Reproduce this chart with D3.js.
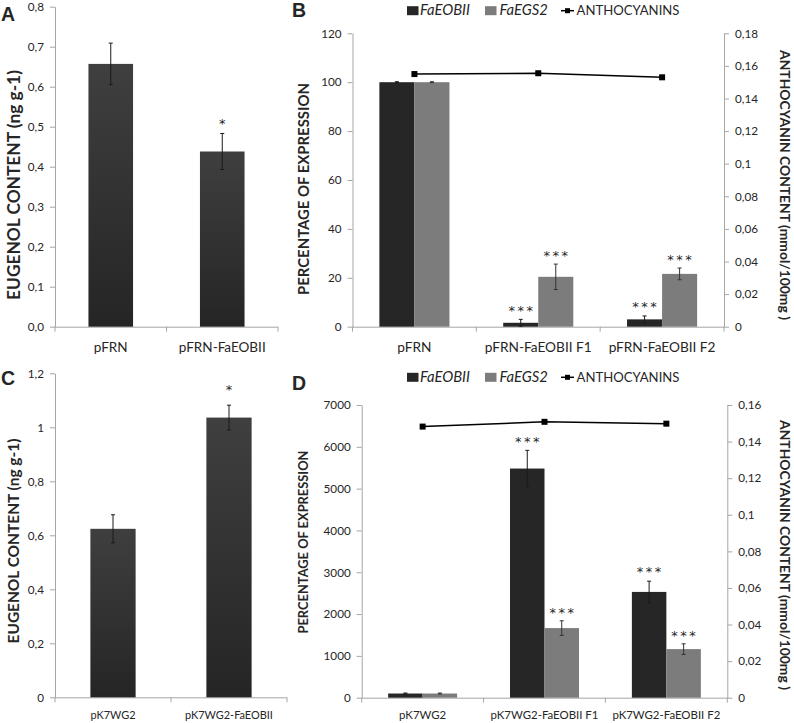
<!DOCTYPE html>
<html><head><meta charset="utf-8">
<script src="https://cdn.jsdelivr.net/npm/d3@7"></script>
<style>
body{margin:0;background:#fff}
text{font-family:Lato,"Open Sans",sans-serif;fill:#262626}
</style>
</head><body>
<svg id="chart" width="794" height="723"></svg>
<script>
// ---------- DATA ----------
// Panel A
const catsA = ["pFRN", "pFRN-FaEOBII"];
const eugenolA = [0.657, 0.438];
const eugenolErrA = [0.052, 0.045];
const sigA = ["", "*"];
const ticksA = [0, 0.1, 0.2, 0.3, 0.4, 0.5, 0.6, 0.7, 0.8];

// Panel C
const catsC = ["pK7WG2", "pK7WG2-FaEOBII"];
const eugenolC = [0.624, 1.036];
const eugenolErrC = [0.052, 0.046];
const sigC = ["", "*"];
const ticksC = [0, 0.2, 0.4, 0.6, 0.8, 1, 1.2];

// Panel B
const catsB = ["pFRN", "pFRN-FaEOBII F1", "pFRN-FaEOBII F2"];
const faeobiiB = [100, 1.6, 3.0];
const faeobiiErrB = [0.2, 1.4, 1.4];
const faegs2B = [100, 20.4, 21.6];
const faegs2ErrB = [0.2, 5.2, 2.4];
const anthoB = [0.155, 0.1555, 0.153];
const sigFaeobiiB = ["", "***", "***"];
const sigFaegs2B = ["", "***", "***"];
const leftTicksB = [0, 20, 40, 60, 80, 100, 120];
const rightTicksB = [0, 0.02, 0.04, 0.06, 0.08, 0.1, 0.12, 0.14, 0.16, 0.18];

// Panel D
const catsD = ["pK7WG2", "pK7WG2-FaEOBII F1", "pK7WG2-FaEOBII F2"];
const faeobiiD = [100, 5480, 2530];
const faeobiiErrD = [12, 435, 257];
const faegs2D = [100, 1665, 1162];
const faegs2ErrD = [12, 175, 127];
const anthoD = [0.1482, 0.1508, 0.1498];
const sigFaeobiiD = ["", "***", "***"];
const sigFaegs2D = ["", "***", "***"];
const leftTicksD = [0, 1000, 2000, 3000, 4000, 5000, 6000, 7000];
const rightTicksD = [0, 0.02, 0.04, 0.06, 0.08, 0.1, 0.12, 0.14, 0.16];

const legendLabels = ["FaEOBII", "FaEGS2", "ANTHOCYANINS"];

// ---------- STYLE ----------
const AXIS = "#a6a6a6", DARK = "#262626", GRAY = "#7c7c7c";
const svg = d3.select("#chart");
const defs = svg.append("defs");
const grad = defs.append("linearGradient").attr("id","barGrad").attr("x1",0).attr("y1",0).attr("x2",0).attr("y2",1);
grad.append("stop").attr("offset","0%").attr("stop-color","#3f3f3f");
grad.append("stop").attr("offset","100%").attr("stop-color","#252525");

const commaFmt1 = v => v.toFixed(1).replace(".", ",");
const commaTrim = v => String(+v.toFixed(2)).replace(".", ",");

// font size that makes `txt` as wide as `target` pixels
function fitSize(txt, target, weight, style){
  const t = svg.append("text").style("font-size", "20px")
    .style("font-weight", weight || "normal").style("font-style", style || "normal").text(txt);
  const w = t.node().getComputedTextLength();
  t.remove();
  return 20 * target / w;
}

const TICK_FS = fitSize("0,18", 23);
const LEG_FS = fitSize("ANTHOCYANINS", 103);
const LEG_IT_FS = fitSize("FaEOBII", 50, "normal", "italic");
const STAR_FS = 13;
const STAR_SP = 2.5;

function styleAxis(g){
  g.select(".domain").attr("stroke", AXIS).attr("stroke-width", 1);
  g.selectAll(".tick line").attr("stroke", AXIS);
  g.selectAll(".tick text").style("font-size", TICK_FS + "px").attr("fill", "#262626");
}

function frame(p, cats, y, leftTicks, leftFmt){
  const x = d3.scaleBand().domain(cats).range([p.x0, p.x1]);
  const gl = svg.append("g").attr("transform", `translate(${p.x0},0)`)
    .call(d3.axisLeft(y).tickValues(leftTicks).tickFormat(leftFmt).tickSize(5).tickSizeOuter(0).tickPadding(6));
  styleAxis(gl);
  svg.append("line").attr("x1", p.x0).attr("x2", p.x1).attr("y1", y(0)+0.5).attr("y2", y(0)+0.5)
    .attr("stroke", AXIS);
  const bounds = cats.map(c => x(c)).concat([p.x1]);
  svg.selectAll(null).data(bounds).enter().append("line")
    .attr("x1", d => d).attr("x2", d => d).attr("y1", y(0)).attr("y2", y(0)+5).attr("stroke", AXIS);
  const longest = cats.reduce((a,b) => b.length > a.length ? b : a);
  const fs = fitSize(longest, p.catW);
  svg.selectAll(null).data(cats).enter().append("text")
    .attr("x", d => x(d) + x.bandwidth()/2).attr("y", y(0) + p.catDy)
    .attr("text-anchor", "middle").style("font-size", fs + "px").text(d => d);
  return x;
}

function panelLetter(letter, px, py){
  svg.append("text").attr("x", px).attr("y", py).text(letter)
    .style("font-family", "'Liberation Sans',Arial,sans-serif").style("font-weight", "bold")
    .style("font-size", "19.5px").attr("fill", "#000");
}

function title(txt, cx, cy, len, rot){
  const fs = fitSize(txt, len, "bold");
  svg.append("text").attr("transform", `translate(${cx},${cy}) rotate(${rot})`)
    .attr("text-anchor", "middle").attr("dy", "0.35em")
    .style("font-weight", "bold").style("font-size", fs + "px").text(txt);
}

function errBar(cx, y, v, e, color){
  const g = svg.append("g").attr("stroke", color).attr("stroke-width", 1);
  g.append("line").attr("x1", cx).attr("x2", cx).attr("y1", y(v+e)).attr("y2", y(v-e));
  g.append("line").attr("x1", cx-2).attr("x2", cx+2).attr("y1", y(v+e)).attr("y2", y(v+e));
  g.append("line").attr("x1", cx-2).attr("x2", cx+2).attr("y1", y(v-e)).attr("y2", y(v-e));
}

function stars(cx, yTop, s, gap){
  if(!s) return;
  svg.append("text").attr("x", cx + STAR_SP/2).attr("y", yTop - gap + 0.56 * STAR_FS).attr("text-anchor", "middle")
    .style("font-family", "'DejaVu Sans',sans-serif")
    .style("font-size", STAR_FS + "px").style("letter-spacing", STAR_SP + "px").attr("fill", "#3a3a3a").text(s);
}

// ---------- SIMPLE PANELS (A, C) ----------
function simplePanel(p, cats, vals, errs, sig, ticks, fmt, domMax, barFrac, starGap){
  const y = d3.scaleLinear().domain([0, domMax]).range([p.y0, p.y1]);
  const x = frame(p, cats, y, ticks, fmt);
  const bw = x.bandwidth() * barFrac;
  svg.selectAll(null).data(cats).enter().append("rect")
    .attr("x", d => x(d) + (x.bandwidth()-bw)/2).attr("width", bw)
    .attr("y", (d,i) => y(vals[i])).attr("height", (d,i) => y(0) - y(vals[i]))
    .attr("fill", "url(#barGrad)");
  cats.forEach((c,i) => {
    const cx = x(c) + x.bandwidth()/2;
    errBar(cx, y, vals[i], errs[i], "#1a1a1a");
    stars(cx, y(vals[i]+errs[i]), sig[i], starGap);
  });
}

simplePanel({x0:55, x1:278, y0:326.7, y1:6.7, catW:87, catDy:25}, catsA, eugenolA, eugenolErrA, sigA, ticksA, commaFmt1, 0.8, 0.4, 13);
simplePanel({x0:55, x1:287, y0:697.3, y1:373.3, catW:88, catDy:21.5}, catsC, eugenolC, eugenolErrC, sigC, ticksC, commaTrim, 1.2, 0.39, 18);
title("EUGENOL CONTENT (ng g-1)", 13.5, 185, 230, -90);
title("EUGENOL CONTENT (ng g-1)", 13.5, 541, 205, -90);
panelLetter("A", 1, 20.5);
panelLetter("C", 1, 385);

// ---------- COMBO PANELS (B, D) ----------
function comboPanel(p, cats, v1, e1, v2, e2, antho, s1, s2, lt, rt, lMax, rMax, legendY){
  const y = d3.scaleLinear().domain([0, lMax]).range([p.y0, p.y1]);
  const yr = d3.scaleLinear().domain([0, rMax]).range([p.y0, p.y1]);
  const x = frame(p, cats, y, lt, d => d);
  const gr = svg.append("g").attr("transform", `translate(${p.x1},0)`)
    .call(d3.axisRight(yr).tickValues(rt).tickFormat(commaTrim).tickSize(5).tickSizeOuter(0).tickPadding(6));
  styleAxis(gr);
  const bw = x.bandwidth() * 0.283;
  cats.forEach((c,i) => {
    const cx = x(c) + x.bandwidth()/2;
    svg.append("rect").attr("x", cx - bw).attr("width", bw).attr("y", y(v1[i])).attr("height", y(0)-y(v1[i])).attr("fill", DARK);
    svg.append("rect").attr("x", cx).attr("width", bw).attr("y", y(v2[i])).attr("height", y(0)-y(v2[i])).attr("fill", GRAY);
    errBar(cx - bw/2, y, v1[i], e1[i], "#1a1a1a");
    errBar(cx + bw/2, y, v2[i], e2[i], "#333");
    stars(cx - bw/2, y(v1[i]+e1[i]), s1[i], 12);
    stars(cx + bw/2, y(v2[i]+e2[i]), s2[i], 11);
  });
  const line = d3.line().x((d,i) => x(cats[i]) + x.bandwidth()/2).y(d => yr(d));
  svg.append("path").datum(antho).attr("d", line).attr("fill", "none").attr("stroke", "#000").attr("stroke-width", 1.5);
  svg.selectAll(null).data(antho).enter().append("rect")
    .attr("x", (d,i) => x(cats[i]) + x.bandwidth()/2 - 3).attr("y", d => yr(d) - 3)
    .attr("width", 6).attr("height", 6).attr("fill", "#000");
  // legend
  const lg = svg.append("g").attr("transform", `translate(0,${legendY})`);
  const base = 0.36 * LEG_FS;
  lg.append("rect").attr("x", 407).attr("y", -4.5).attr("width", 11.5).attr("height", 9).attr("fill", DARK);
  lg.append("text").attr("x", 420).attr("y", base).style("font-style", "italic").style("font-size", LEG_IT_FS + "px").text(legendLabels[0]);
  lg.append("rect").attr("x", 485).attr("y", -4.5).attr("width", 11.5).attr("height", 9).attr("fill", GRAY);
  lg.append("text").attr("x", 499.5).attr("y", base).style("font-style", "italic").style("font-size", LEG_IT_FS + "px").text(legendLabels[1]);
  lg.append("line").attr("x1", 561).attr("x2", 574).attr("y1", 0).attr("y2", 0).attr("stroke", "#000").attr("stroke-width", 1.5);
  lg.append("rect").attr("x", 565).attr("y", -2.5).attr("width", 5).attr("height", 5).attr("fill", "#000");
  lg.append("text").attr("x", 576.5).attr("y", base).style("font-size", LEG_FS + "px").text(legendLabels[2]);
}

comboPanel({x0:352.5, x1:724, y0:326.7, y1:33.3, catW:107, catDy:25}, catsB, faeobiiB, faeobiiErrB, faegs2B, faegs2ErrB, anthoB,
  sigFaeobiiB, sigFaegs2B, leftTicksB, rightTicksB, 120, 0.18, 10.7);
comboPanel({x0:361.7, x1:727.3, y0:697.7, y1:405, catW:108, catDy:21.5}, catsD, faeobiiD, faeobiiErrD, faegs2D, faegs2ErrD, anthoD,
  sigFaeobiiD, sigFaegs2D, leftTicksD, rightTicksD, 7000, 0.16, 377.3);

title("PERCENTAGE OF EXPRESSION", 303.5, 189, 212, -90);
title("PERCENTAGE OF EXPRESSION", 303.5, 542, 183, -90);
title("ANTHOCYANIN CONTENT (mmol/100mg )", 785, 185, 270, 90);
title("ANTHOCYANIN CONTENT (mmol/100mg )", 785, 555, 270, 90);
panelLetter("B", 292, 17.3);
panelLetter("D", 292, 390);
</script>
</body></html>
